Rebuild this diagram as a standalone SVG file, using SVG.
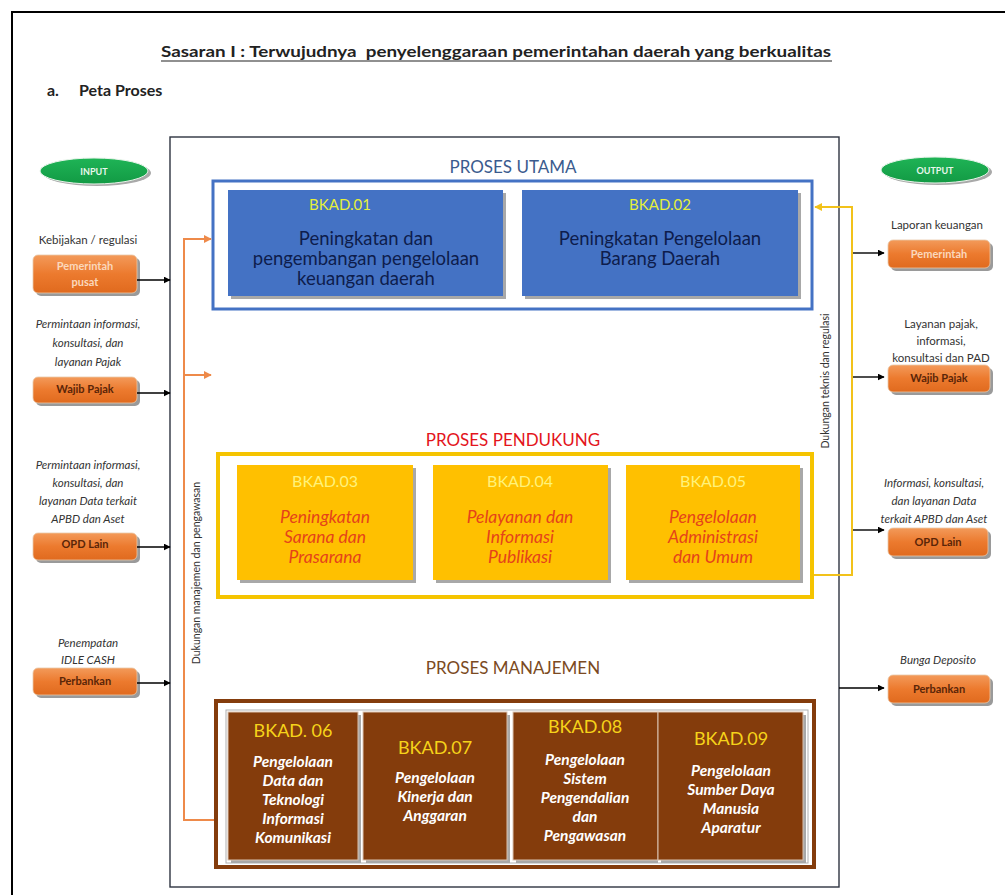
<svg xmlns="http://www.w3.org/2000/svg" width="1005" height="895" viewBox="0 0 1005 895">
<defs>
<style>
text{font-family:Lato,"Open Sans","Liberation Sans",sans-serif;}
.lbl{font-size:11.5px;fill:#333;text-anchor:middle;}
.it{font-style:italic;}
.obox{fill:url(#og);stroke:#e9c8a8;stroke-width:0.8;}
.osh{fill:#9a9a9a;}
.otl{font-size:11px;font-weight:bold;fill:#fbd8bc;text-anchor:middle;}
.otd{font-size:11px;font-weight:bold;fill:#5a2508;text-anchor:middle;}
.blk{stroke:#000;stroke-width:1.4;fill:none;marker-end:url(#ab);}
.bbox{fill:#4472c4;}
.bsh{fill:#a8a8a8;}
.blab{font-size:15px;fill:#e6ef3a;text-anchor:middle;}
.btx{font-size:18.5px;fill:#0e1d4c;text-anchor:middle;}
.ybox{fill:#ffc000;}
.ylab{font-size:16px;fill:#fff27a;text-anchor:middle;}
.ytx{font-size:17.5px;font-style:italic;fill:#e5431a;text-anchor:middle;}
.nbox{fill:#843c0c;stroke:#d9c2b0;stroke-width:1;}
.nlab{font-size:18px;fill:#f6d31a;text-anchor:middle;}
.ntx{font-size:15.5px;font-weight:bold;font-style:italic;fill:#fff;text-anchor:middle;}
.head{font-size:17px;text-anchor:middle;}
.rot{font-size:10.5px;fill:#333;text-anchor:middle;}
</style>
<linearGradient id="og" x1="0" y1="0" x2="0" y2="1">
<stop offset="0" stop-color="#f39a5a"/>
<stop offset="0.5" stop-color="#ec7a2e"/>
<stop offset="1" stop-color="#e06a1e"/>
</linearGradient>
<linearGradient id="gg" x1="0" y1="0" x2="0" y2="1">
<stop offset="0" stop-color="#1fb456"/>
<stop offset="1" stop-color="#129a44"/>
</linearGradient>
<marker id="ab" viewBox="0 0 10 10" refX="9" refY="5" markerWidth="7" markerHeight="7" orient="auto" markerUnits="userSpaceOnUse">
<path d="M0,0 L10,5 L0,10 z" fill="#000"/>
</marker>
<marker id="ao" viewBox="0 0 10 10" refX="9" refY="5" markerWidth="8" markerHeight="8" orient="auto" markerUnits="userSpaceOnUse">
<path d="M0,0 L10,5 L0,10 z" fill="#ee8a4a"/>
</marker>
<marker id="ay" viewBox="0 0 10 10" refX="9" refY="5" markerWidth="8" markerHeight="8" orient="auto" markerUnits="userSpaceOnUse">
<path d="M0,0 L10,5 L0,10 z" fill="#f2c21a"/>
</marker>
</defs>
<rect width="1005" height="895" fill="#fff"/>
<path d="M12,895 V12 H1005" fill="none" stroke="#000" stroke-width="2"/>
<g id="title">
<text x="496" y="57" font-size="16" font-weight="bold" fill="#222" text-anchor="middle" textLength="670" lengthAdjust="spacingAndGlyphs" xml:space="preserve">Sasaran I : Terwujudnya  penyelenggaraan pemerintahan daerah yang berkualitas</text>
<line x1="161" y1="61" x2="832" y2="61" stroke="#222" stroke-width="1.2"/>
<text x="47" y="96" font-size="16" font-weight="bold" fill="#222">a.</text>
<text x="79" y="96" font-size="16" font-weight="bold" fill="#222">Peta Proses</text>
</g>
<rect id="frame" x="170" y="137" width="669" height="750" fill="#fff" stroke="#2e3440" stroke-width="1.4"/>
<g id="input">
<ellipse cx="97" cy="173" rx="54" ry="13" fill="#a9a9a9"/>
<ellipse cx="94" cy="171" rx="54" ry="13" fill="url(#gg)" stroke="#e8f4ea" stroke-width="1"/>
<text x="94" y="174.5" font-size="9" font-weight="bold" fill="#e9f7ec" text-anchor="middle">INPUT</text>
</g>
<g id="output">
<ellipse cx="938" cy="172" rx="54" ry="13" fill="#a9a9a9"/>
<ellipse cx="935" cy="170" rx="54" ry="13" fill="url(#gg)" stroke="#e8f4ea" stroke-width="1"/>
<text x="935" y="173.5" font-size="9" font-weight="bold" fill="#e9f7ec" text-anchor="middle">OUTPUT</text>
</g>
<g id="in-pemerintah">
<text class="lbl" x="88" y="244">Kebijakan / regulasi</text>
<rect class="osh" x="36" y="258" width="104" height="38" rx="5"/>
<rect class="obox" x="33" y="255" width="104" height="38" rx="5"/>
<text class="otl" x="85" y="270">Pemerintah</text>
<text class="otl" x="85" y="286">pusat</text>
</g>
<g id="in-wajib">
<text class="lbl it" x="88" y="328">Permintaan informasi,</text>
<text class="lbl it" x="88" y="347">konsultasi, dan</text>
<text class="lbl it" x="88" y="366">layanan Pajak</text>
<rect class="osh" x="36" y="380" width="104" height="26" rx="5"/>
<rect class="obox" x="33" y="377" width="104" height="26" rx="5"/>
<text class="otd" x="85" y="393">Wajib Pajak</text>
</g>
<g id="in-opd">
<text class="lbl it" x="88" y="469">Permintaan informasi,</text>
<text class="lbl it" x="88" y="487">konsultasi, dan</text>
<text class="lbl it" x="88" y="505">layanan Data terkait</text>
<text class="lbl it" x="88" y="523">APBD dan Aset</text>
<rect class="osh" x="36" y="536" width="104" height="27" rx="5"/>
<rect class="obox" x="33" y="533" width="104" height="27" rx="5"/>
<text class="otd" x="85" y="548">OPD Lain</text>
</g>
<g id="in-perbankan">
<text class="lbl it" x="88" y="647">Penempatan</text>
<text class="lbl it" x="88" y="664">IDLE CASH</text>
<rect class="osh" x="36" y="671" width="104" height="27" rx="5"/>
<rect class="obox" x="33" y="668" width="104" height="27" rx="5"/>
<text class="otd" x="85" y="685">Perbankan</text>
</g>
<g id="out-pemerintah">
<text class="lbl" x="937" y="229">Laporan keuangan</text>
<rect class="osh" x="891" y="243" width="102" height="28" rx="5"/>
<rect class="obox" x="888" y="240" width="102" height="28" rx="5"/>
<text class="otl" x="939" y="258">Pemerintah</text>
</g>
<g id="out-wajib">
<text class="lbl" x="941" y="328">Layanan pajak,</text>
<text class="lbl" x="941" y="345">informasi,</text>
<text class="lbl" x="941" y="362">konsultasi dan PAD</text>
<rect class="osh" x="891" y="368" width="102" height="27" rx="5"/>
<rect class="obox" x="888" y="365" width="102" height="27" rx="5"/>
<text class="otd" x="939" y="382">Wajib Pajak</text>
</g>
<g id="out-opd">
<text class="lbl it" x="934" y="487">Informasi, konsultasi,</text>
<text class="lbl it" x="934" y="505">dan layanan Data</text>
<text class="lbl it" x="934" y="523">terkait APBD dan Aset</text>
<rect class="osh" x="891" y="531" width="100" height="28" rx="5"/>
<rect class="obox" x="888" y="528" width="100" height="28" rx="5"/>
<text class="otd" x="938" y="546">OPD Lain</text>
</g>
<g id="out-perbankan">
<text class="lbl it" x="938" y="664">Bunga Deposito</text>
<rect class="osh" x="891" y="678" width="102" height="28" rx="5"/>
<rect class="obox" x="888" y="675" width="102" height="28" rx="5"/>
<text class="otd" x="939" y="693">Perbankan</text>
</g>
<g id="proses-utama">
<text class="head" x="513" y="173" fill="#3b5b8e">PROSES UTAMA</text>
<rect x="213" y="181" width="599" height="128" fill="#fff" stroke="#4472c4" stroke-width="3"/>
</g>
<g id="bkad01">
<rect class="bsh" x="231" y="193" width="275" height="106"/>
<rect class="bbox" x="228" y="190" width="275" height="106"/>
<text class="blab" x="340" y="210">BKAD.01</text>
<text class="btx" x="366" y="245">Peningkatan dan</text>
<text class="btx" x="366" y="265">pengembangan pengelolaan</text>
<text class="btx" x="366" y="285">keuangan daerah</text>
</g>
<g id="bkad02">
<rect class="bsh" x="525" y="193" width="276" height="106"/>
<rect class="bbox" x="522" y="190" width="276" height="106"/>
<text class="blab" x="660" y="210">BKAD.02</text>
<text class="btx" x="660" y="245">Peningkatan Pengelolaan</text>
<text class="btx" x="660" y="265">Barang Daerah</text>
</g>
<g id="proses-pendukung">
<text class="head" x="513" y="446" fill="#e3151c">PROSES PENDUKUNG</text>
<rect x="218" y="454" width="594" height="143" fill="#fff" stroke="#f5c400" stroke-width="4"/>
</g>
<g id="bkad03">
<rect class="bsh" x="240" y="468" width="176" height="115"/>
<rect class="ybox" x="237" y="465" width="176" height="115"/>
<text class="ylab" x="325" y="487">BKAD.03</text>
<text class="ytx" x="325" y="523">Peningkatan</text>
<text class="ytx" x="325" y="543">Sarana dan</text>
<text class="ytx" x="325" y="563">Prasarana</text>
</g>
<g id="bkad04">
<rect class="bsh" x="436" y="468" width="175" height="115"/>
<rect class="ybox" x="433" y="465" width="175" height="115"/>
<text class="ylab" x="520" y="487">BKAD.04</text>
<text class="ytx" x="520" y="523">Pelayanan dan</text>
<text class="ytx" x="520" y="543">Informasi</text>
<text class="ytx" x="520" y="563">Publikasi</text>
</g>
<g id="bkad05">
<rect class="bsh" x="629" y="468" width="174" height="115"/>
<rect class="ybox" x="626" y="465" width="174" height="115"/>
<text class="ylab" x="713" y="487">BKAD.05</text>
<text class="ytx" x="713" y="523">Pengelolaan</text>
<text class="ytx" x="713" y="543">Administrasi</text>
<text class="ytx" x="713" y="563">dan Umum</text>
</g>
<g id="proses-manajemen">
<text class="head" x="513" y="674" fill="#7b4a22">PROSES MANAJEMEN</text>
<rect x="216" y="701" width="598" height="166" fill="#fff" stroke="#843c0c" stroke-width="4"/>
<rect x="226" y="710" width="582" height="153" fill="none" stroke="#b0b0b0" stroke-width="1"/>
</g>
<g id="bkad06">
<rect class="bsh" x="231" y="715" width="130" height="148"/>
<rect class="nbox" x="228" y="712" width="130" height="148"/>
<text class="nlab" x="293" y="737">BKAD. 06</text>
<text class="ntx" x="293" y="767">Pengelolaan</text>
<text class="ntx" x="293" y="786">Data dan</text>
<text class="ntx" x="293" y="805">Teknologi</text>
<text class="ntx" x="293" y="824">Informasi</text>
<text class="ntx" x="293" y="843">Komunikasi</text>
</g>
<g id="bkad07">
<rect class="bsh" x="366" y="715" width="144" height="148"/>
<rect class="nbox" x="363" y="712" width="144" height="148"/>
<text class="nlab" x="435" y="754">BKAD.07</text>
<text class="ntx" x="435" y="783">Pengelolaan</text>
<text class="ntx" x="435" y="802">Kinerja dan</text>
<text class="ntx" x="435" y="821">Anggaran</text>
</g>
<g id="bkad08">
<rect class="bsh" x="516" y="715" width="142" height="148"/>
<rect class="nbox" x="513" y="712" width="145" height="148"/>
<text class="nlab" x="585" y="733">BKAD.08</text>
<text class="ntx" x="585" y="765">Pengelolaan</text>
<text class="ntx" x="585" y="784">Sistem</text>
<text class="ntx" x="585" y="803">Pengendalian</text>
<text class="ntx" x="585" y="822">dan</text>
<text class="ntx" x="585" y="841">Pengawasan</text>
</g>
<g id="bkad09">
<rect class="bsh" x="661" y="715" width="145" height="148"/>
<rect class="nbox" x="658" y="712" width="145" height="148"/>
<text class="nlab" x="731" y="745">BKAD.09</text>
<text class="ntx" x="731" y="776">Pengelolaan</text>
<text class="ntx" x="731" y="795">Sumber Daya</text>
<text class="ntx" x="731" y="814">Manusia</text>
<text class="ntx" x="731" y="833">Aparatur</text>
</g>
<g id="connectors">
<line class="blk" x1="137" y1="280" x2="170" y2="280"/>
<line class="blk" x1="137" y1="393" x2="170" y2="393"/>
<line class="blk" x1="137" y1="547" x2="170" y2="547"/>
<line class="blk" x1="137" y1="683" x2="170" y2="683"/>
<line class="blk" x1="853" y1="253" x2="884" y2="253"/>
<line class="blk" x1="853" y1="377" x2="884" y2="377"/>
<line class="blk" x1="853" y1="530" x2="884" y2="530"/>
<line class="blk" x1="839" y1="688" x2="884" y2="688"/>
<polyline points="214,820 184,820 184,239 211,239" fill="none" stroke="#ee8a4a" stroke-width="2" marker-end="url(#ao)"/>
<line x1="184" y1="375" x2="211" y2="375" stroke="#ee8a4a" stroke-width="2" marker-end="url(#ao)"/>
<polyline points="814,575 852,575 852,207 815,207" fill="none" stroke="#f2c21a" stroke-width="2" marker-end="url(#ay)"/>
<text class="rot" transform="translate(200,573) rotate(-90)">Dukungan manajemen dan pengawasan</text>
<text class="rot" transform="translate(829,381) rotate(-90)">Dukungan teknis dan regulasi</text>
</g>
</svg>
